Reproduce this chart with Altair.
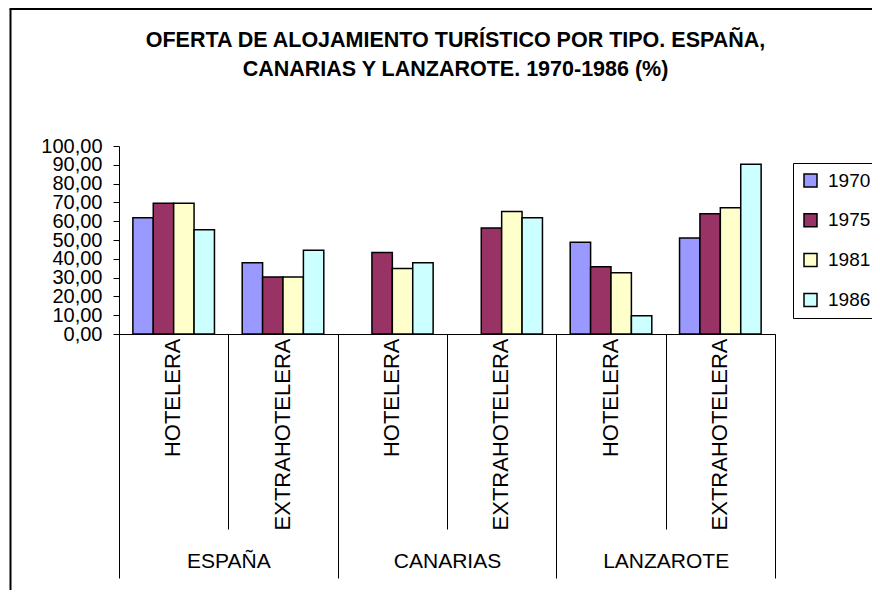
import altair as alt
import pandas as pd

groups = ["ESPAÑA", "CANARIAS", "LANZAROTE"]
types = ["HOTELERA", "EXTRAHOTELERA"]
years = ["1970", "1975", "1981", "1986"]
colors = ["#9999FF", "#993366", "#FFFFCC", "#CCFFFF"]

# values in order: España H, España E, Canarias H, Canarias E, Lanzarote H, Lanzarote E
v1970 = [61.9, 37.9, None, None, 48.8, 51.1]
v1975 = [69.5, 30.3, 43.3, 56.4, 35.8, 64.0]
v1981 = [69.5, 30.3, 34.8, 65.2, 32.6, 67.2]
v1986 = [55.5, 44.5, 37.9, 61.9, 9.7, 90.3]

title_lines = ["OFERTA DE ALOJAMIENTO TURÍSTICO POR TIPO. ESPAÑA,",
               "CANARIAS Y LANZAROTE. 1970-1986 (%)"]

cats = [(g, t) for g in groups for t in types]
keys = [g + "|" + t for g, t in cats]
series = {"1970": v1970, "1975": v1975, "1981": v1981, "1986": v1986}

rows = []
for y in years:
    for (g, t), k, v in zip(cats, keys, series[y]):
        if v is not None:
            rows.append({"grupo": g, "tipo": t, "clave": k, "anio": y, "valor": v})
df = pd.DataFrame(rows)

FONT = "Liberation Sans, Arial, sans-serif"

yscale = alt.Scale(domain=[0, 100], nice=False, zero=True)

frame_df = pd.DataFrame({"b": [0]})
border_left = alt.Chart(frame_df).mark_rule(stroke="black", strokeWidth=2).encode(
    x=alt.value(-108.5), y=alt.value(-137), y2=alt.value(460)
)
border_top = alt.Chart(frame_df).mark_rule(stroke="black", strokeWidth=2).encode(
    x=alt.value(-109.5), x2=alt.value(900), y=alt.value(-137), y2=alt.value(-137)
)

bars = alt.Chart(df).mark_bar(stroke="black", strokeWidth=1.5).encode(
    x=alt.X("clave:N", sort=keys,
            scale=alt.Scale(paddingInner=0, paddingOuter=0),
            axis=alt.Axis(title=None, orient="bottom", tickBand="extent",
                          tickSize=195, tickColor="black", tickWidth=1,
                          domainColor="black", domainWidth=1,
                          labelExpr="split(datum.label, '|')[1]",
                          labelAngle=-90, labelPadding=-191,
                          labelFont=FONT, labelFontSize=22, labelColor="black",
                          labelLimit=400, labelOverlap=False, labelFlush=False,
                          labelOffset=-1)),
    xOffset=alt.XOffset("anio:N", sort=years,
                        scale=alt.Scale(paddingInner=0, paddingOuter=0.68)),
    y=alt.Y("valor:Q", scale=yscale,
            axis=alt.Axis(title=None, values=list(range(0, 101, 10)),
                          labelExpr="replace(format(datum.value, '.2f'), '.', ',')",
                          tickSize=6, tickColor="black", domainColor="black",
                          labelFont=FONT, labelFontSize=20, labelColor="black",
                          labelPadding=11, grid=False, labelOverlap=False,
                          labelFlush=False)),
    color=alt.Color("anio:N", sort=years,
                    scale=alt.Scale(domain=years, range=colors),
                    legend=alt.Legend(title=None, orient="none", legendX=674, legendY=17,
                                      symbolType="square", symbolSize=169,
                                      symbolStrokeColor="black", symbolStrokeWidth=1.5,
                                      labelFont=FONT, labelFontSize=19, labelColor="black",
                                      labelOffset=8, rowPadding=19.8, padding=8,
                                      strokeColor="black", fillColor="white")),
)

grp = alt.Chart(df).mark_point(opacity=0, size=1).encode(
    x=alt.X("grupo:N", sort=groups,
            scale=alt.Scale(paddingInner=0, paddingOuter=0),
            axis=alt.Axis(title=None, orient="bottom", tickBand="extent",
                          tickSize=244, tickColor="black", tickWidth=1,
                          domain=False, labelAngle=0, labelBaseline="alphabetic",
                          labelPadding=-11, labelFont=FONT, labelFontSize=21,
                          labelColor="black", labelOverlap=False, labelFlush=False)),
    y=alt.value(100),
)

chart = alt.layer(border_left, border_top, bars, grp).resolve_scale(
    x="independent"
).resolve_axis(
    x="independent"
).properties(
    width=656, height=188,
    autosize=alt.AutoSizeParams(type="none"),
    padding={"left": 111, "top": 138, "right": 97, "bottom": 256},
    title=alt.TitleParams(text=title_lines, font=FONT, fontSize=21.5, fontWeight="bold",
                          color="black", anchor="middle", frame="group", dx=8.5,
                          lineHeight=29, offset=-72),
    background="white",
).configure_view(stroke="transparent")

chart.save("out.html", embed_options={"renderer": "svg", "actions": False})
